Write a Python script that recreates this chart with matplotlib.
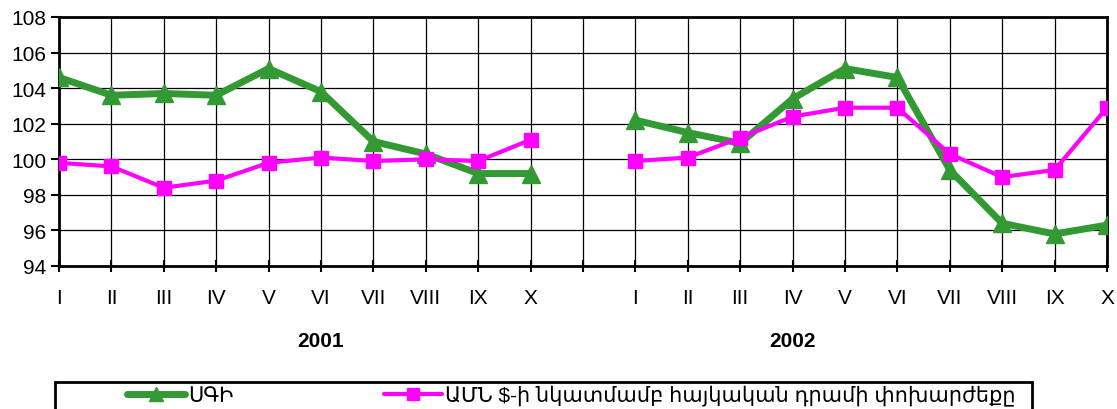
import numpy as np
import matplotlib
matplotlib.use("Agg")
import matplotlib.pyplot as plt
from matplotlib.patches import Rectangle

plt.rcParams['font.family'] = ['Liberation Sans', 'DejaVu Sans']

# --- Datos ---
months = ['I', 'II', 'III', 'IV', 'V', 'VI', 'VII', 'VIII', 'IX', 'X']
years = ['2001', '2002']
sgi_2001 = [104.6, 103.6, 103.7, 103.6, 105.1, 103.8, 101.0, 100.3, 99.2, 99.2]
sgi_2002 = [102.2, 101.5, 100.9, 103.4, 105.1, 104.6, 99.4, 96.4, 95.8, 96.3]
amd_2001 = [99.8, 99.6, 98.4, 98.8, 99.8, 100.1, 99.9, 100.0, 99.9, 101.1]
amd_2002 = [99.9, 100.1, 101.2, 102.4, 102.9, 102.9, 100.3, 99.0, 99.4, 102.9]
label_sgi = 'ՍԳԻ'
label_amd = 'ԱՄՆ $-ի նկատմամբ հայկական դրամի փոխարժեքը'

# un hueco entre los dos años
sgi = np.array(sgi_2001 + [np.nan] + sgi_2002)
amd = np.array(amd_2001 + [np.nan] + amd_2002)
x = np.arange(len(sgi))
tick_labels = months + [''] + months

fig = plt.figure(figsize=(11.17, 4.10), dpi=100)
ax = fig.add_axes([59 / 1117, 1 - 267 / 410, (1107 - 59) / 1117, (267 - 18) / 410])

ax.plot(x, sgi, color='#339933', lw=5, marker='^', ms=13, label=label_sgi,
        solid_capstyle='round', zorder=3)
ax.plot(x, amd, color='#ff00ff', lw=3, marker='s', ms=10, label=label_amd,
        solid_capstyle='round', zorder=4)

ax.set_xlim(0, len(x) - 1)
ax.set_ylim(94, 108)
ax.set_yticks(np.arange(94, 109, 2))
ax.set_xticks(x)
ax.set_xticklabels(tick_labels)
ax.grid(True, color='black', lw=0.9)
ax.set_axisbelow(True)
for s in ax.spines.values():
    s.set_linewidth(2)
ax.tick_params(axis='x', direction='inout', length=9, width=1.5, pad=11, labelsize=15)
ax.tick_params(axis='y', direction='out', length=6, width=1.5, pad=3, labelsize=15)

# etiquetas de año bajo el eje
for xpos, yr in zip([5, 14], years):
    ax.text(xpos, -0.3, yr, transform=ax.get_xaxis_transform(), ha='center', va='center',
            fontsize=15, fontweight='bold')

# leyenda (caja cortada en el borde inferior)
fig.add_artist(Rectangle((55 / 1117, -0.1), (1032 - 55) / 1117, 0.1 + 1 - 383 / 410,
                         transform=fig.transFigure, fill=False, ec='black', lw=2))
fig.legend(loc='center left', bbox_to_anchor=(127 / 1117, 1 - 396 / 410), ncol=2,
           frameon=False, fontsize=15, handlelength=2.8, handletextpad=0.15,
           columnspacing=7.2, borderpad=0, borderaxespad=0, markerscale=0.8)

fig.savefig('out.png', dpi=100)
